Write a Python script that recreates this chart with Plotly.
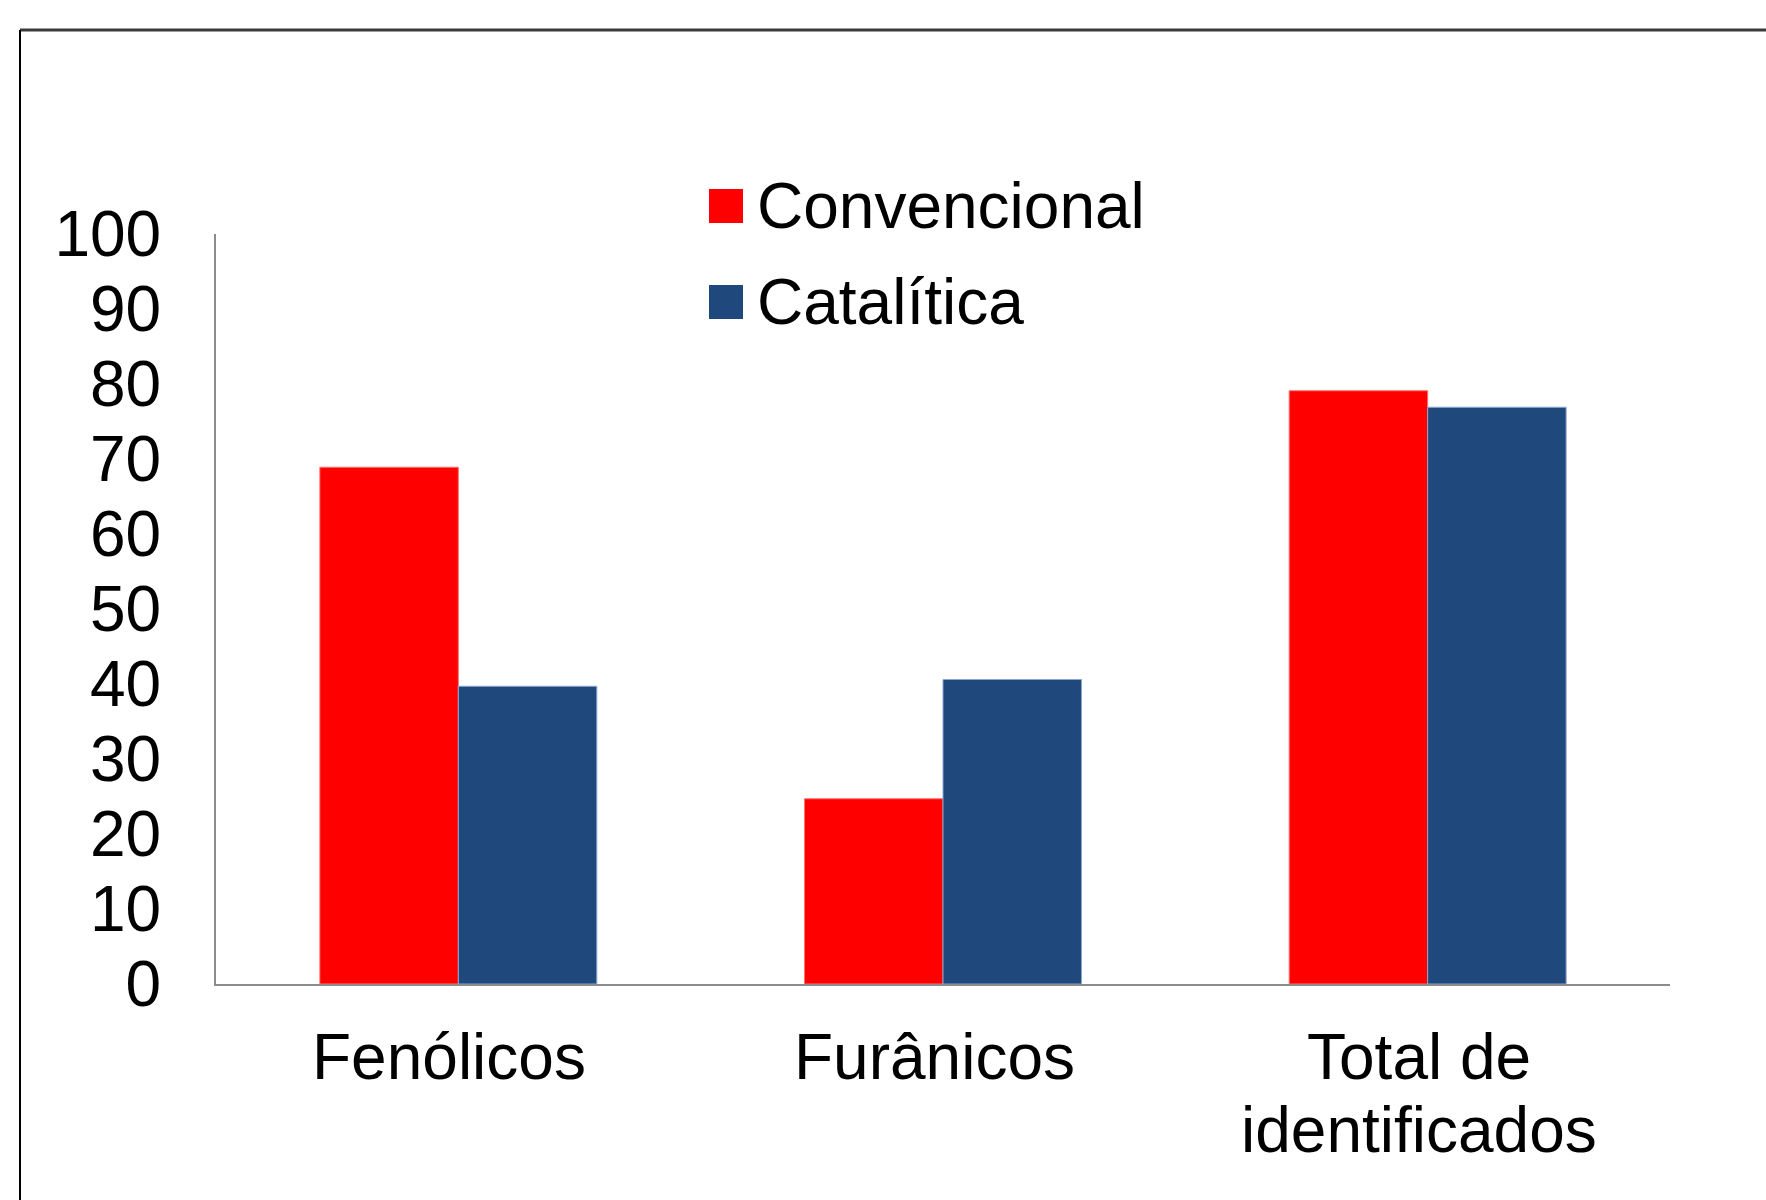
import plotly.graph_objects as go

# Categories and series (percent of identified compounds)
categories = ["Fenólicos", "Furânicos", "Total de<br>identificados"]
convencional = [68.9, 24.7, 79.1]
catalitica = [39.7, 40.6, 76.9]
series_names = ["Convencional", "Catalítica"]
series_colors = ["#FF0000", "#1F497D"]
y_ticks = list(range(0, 101, 10))

W, H = 1766, 1200
L, R, T, B = 216, 96, 234, 216
FONT = "Arial, Liberation Sans, sans-serif"
FS = 64

fig = go.Figure()
fig.add_trace(go.Bar(
    x=categories, y=convencional, name=series_names[0],
    marker=dict(color=series_colors[0], line=dict(color="#FF7070", width=1)),
    showlegend=False,
))
fig.add_trace(go.Bar(
    x=categories, y=catalitica, name=series_names[1],
    marker=dict(color=series_colors[1], line=dict(color="#8DA6D0", width=1)),
    showlegend=False,
))

pw = W - L - R
ph = H - T - B


def px_to_paper(x, y):
    return (x - L) / pw, (H - B - y) / ph


shapes = []
annotations = []

# Legend drawn as swatches + labels
legend_rows = [(206, series_names[0], series_colors[0]), (302, series_names[1], series_colors[1])]
for cy, name, col in legend_rows:
    x0, y0 = px_to_paper(709, cy - 17)
    x1, y1 = px_to_paper(743, cy + 17)
    shapes.append(dict(type="rect", xref="paper", yref="paper",
                       x0=x0, x1=x1, y0=y1, y1=y0,
                       fillcolor=col, line=dict(width=0)))
    tx, ty = px_to_paper(755, cy)
    annotations.append(dict(x=tx, y=ty, xref="paper", yref="paper",
                            text=name, showarrow=False,
                            xanchor="left", yanchor="middle",
                            font=dict(family=FONT, size=FS, color="black")))

# Category labels under the axis, one annotation per text line
line_rows = [1057, 1130]
for cat in categories:
    for i, part in enumerate(cat.split("<br>")):
        _, ly = px_to_paper(0, line_rows[i])
        annotations.append(dict(x=cat, y=ly, xref="x", yref="paper",
                                text=part, showarrow=False, xshift=-9,
                                xanchor="center", yanchor="middle",
                                font=dict(family=FONT, size=FS, color="black")))

# Outer frame (top and left edges)
fx0, fy0 = px_to_paper(20, 30)
fx1, _ = px_to_paper(W + 5, 30)
_, fy1 = px_to_paper(20, H + 5)
shapes.append(dict(type="line", xref="paper", yref="paper",
                   x0=fx0, x1=fx1, y0=fy0, y1=fy0,
                   line=dict(color="#3a3a3a", width=3)))
shapes.append(dict(type="line", xref="paper", yref="paper",
                   x0=fx0, x1=fx0, y0=fy0, y1=fy1,
                   line=dict(color="black", width=2)))

fig.update_layout(
    width=W, height=H,
    margin=dict(l=L, r=R, t=T, b=B, pad=0),
    paper_bgcolor="white", plot_bgcolor="white",
    barmode="group", bargap=1.5 / 3.5, bargroupgap=0,
    font=dict(family=FONT, size=FS, color="black"),
    shapes=shapes, annotations=annotations,
    showlegend=False,
)
fig.update_xaxes(
    showline=True, linecolor="#8c8c8c", linewidth=2,
    showgrid=False, ticks="", showticklabels=False,
)
fig.update_yaxes(
    range=[0, 100], tickvals=y_ticks, ticktext=[str(v) for v in y_ticks],
    showline=True, linecolor="#8c8c8c", linewidth=2,
    showgrid=False, zeroline=False, ticks="", ticklabelstandoff=40,
    tickfont=dict(family=FONT, size=FS, color="black"),
)

fig.write_html("out.html")
